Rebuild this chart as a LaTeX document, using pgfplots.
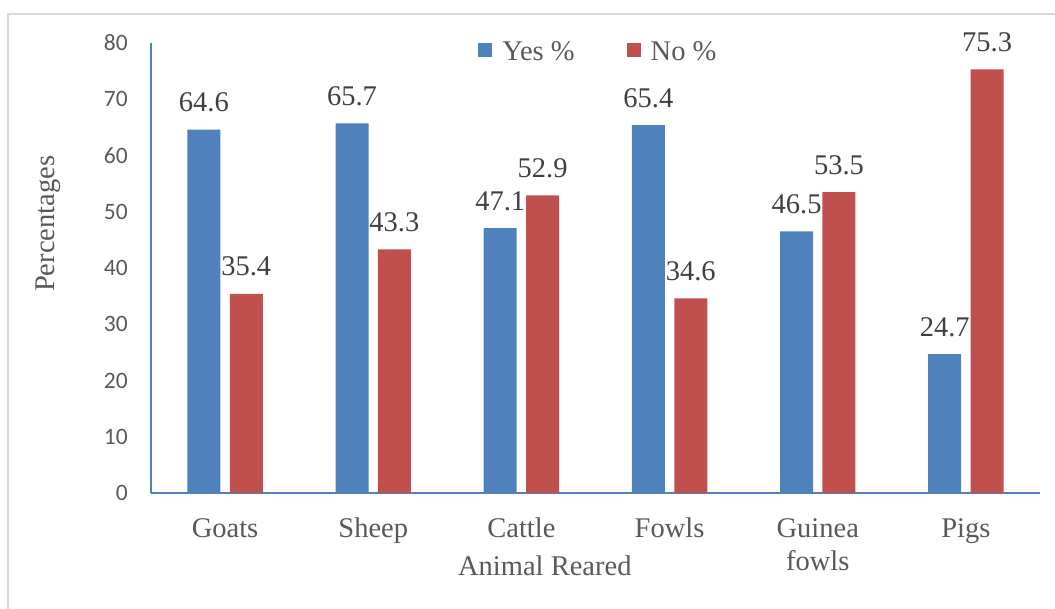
\documentclass[border=0pt]{standalone}
\usepackage{pgfplots}
\pgfplotsset{compat=1.18}
\usepackage{fontspec}
\setmainfont{Liberation Serif}
\newfontfamily\calibri{Carlito}

\definecolor{yesblue}{HTML}{4F81BD}
\definecolor{nored}{HTML}{C0504D}
\definecolor{txtgrey}{HTML}{595959}
\definecolor{lblgrey}{HTML}{404040}
\definecolor{framegrey}{HTML}{D9D9D9}

\newcommand{\serifsize}{\fontsize{28.5}{33}\selectfont}

\begin{document}
\begin{tikzpicture}
% page extent and chart frame
\path[use as bounding box] (-151pt,-115pt) rectangle (904pt,493pt);
\draw[framegrey, line width=2pt] (-143pt,-140pt) rectangle (930pt,479pt);

\begin{axis}[
  at={(0pt,0pt)}, anchor=south west,
  scale only axis, width=889pt, height=450pt,
  ybar, bar width=0.2227,
  xmin=-0.5, xmax=5.5, ymin=0, ymax=80,
  ytick={0,10,...,80},
  xtick={0,1,2,3,4,5},
  xticklabels={Goats,Sheep,Cattle,Fowls,{Guinea\\fowls},Pigs},
  axis x line=bottom, axis y line=left,
  axis line style={yesblue, line width=1.5pt, -},
  major tick length=0pt,
  /pgf/number format/assume math mode=true,
  yticklabel style={font=\calibri\fontsize{23.5}{23.5}\selectfont, text=txtgrey,
    anchor=east, inner sep=0pt, xshift=-23pt},
  xticklabel style={font=\serifsize, text=txtgrey, align=center,
    anchor=north, inner sep=0pt, yshift=-25pt},
  ylabel={Percentages},
  ylabel style={font=\serifsize, text=txtgrey, anchor=base,
    at={(axis description cs:-0.1091,0.598)}},
  xlabel={Animal Reared},
  xlabel style={font=\serifsize, text=txtgrey, anchor=base,
    at={(axis description cs:0.443,-0.1844)}},
  nodes near coords,
  every node near coord/.append style={font=\serifsize, text=lblgrey,
    anchor=base, inner sep=0pt, yshift=18pt,
    /pgf/number format/fixed, /pgf/number format/precision=1},
  legend columns=2,
  legend style={at={(axis description cs:0.368,0.981)}, anchor=west,
    draw=none, fill=none, inner sep=0pt, font=\serifsize, text=txtgrey,
    nodes={inner sep=0pt},
    /tikz/every odd column/.append style={column sep=10pt},
    /tikz/every even column/.append style={column sep=52pt}},
]
\addplot[bar shift=-0.143, fill=yesblue, draw=none,
  legend image code/.code={\fill[yesblue] (0pt,-5.3pt) rectangle (14pt,8.7pt);}]
  coordinates {(0,64.6) (1,65.7) (2,47.1) (3,65.4) (4,46.5) (5,24.7)};
\addlegendentry{Yes \%}
\addplot[bar shift=0.143, fill=nored, draw=none,
  legend image code/.code={\fill[nored] (0pt,-5.3pt) rectangle (14pt,8.7pt);}]
  coordinates {(0,35.4) (1,43.3) (2,52.9) (3,34.6) (4,53.5) (5,75.3)};
\addlegendentry{No \%}
\end{axis}
\end{tikzpicture}
\end{document}
